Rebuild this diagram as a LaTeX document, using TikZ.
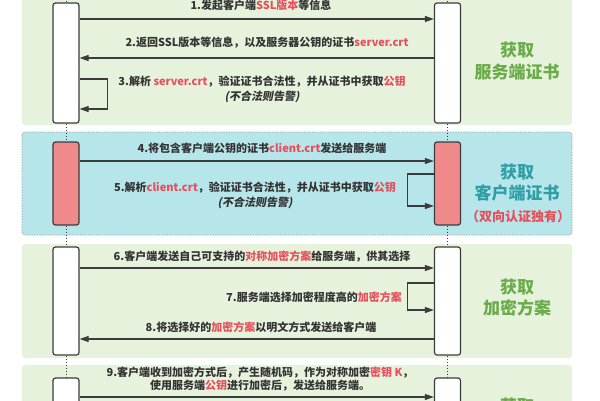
\documentclass[tikz,border=0pt]{standalone}
\usepackage{fontspec}
\setmainfont{Noto Sans CJK SC}
\newfontfamily\slantfont{Noto Sans CJK SC}[FakeSlant=0.2]
\usetikzlibrary{arrows.meta}

\definecolor{panelgreen}{HTML}{E6F2DC}
\definecolor{panelcyan}{HTML}{B6E5EA}
\definecolor{boxpink}{HTML}{F08A8A}
\definecolor{linegray}{HTML}{3C3C3C}
\definecolor{textgray}{HTML}{333333}
\definecolor{hotred}{HTML}{E5505C}
\definecolor{phasegreen}{HTML}{6AAB4A}
\definecolor{phaseteal}{HTML}{2E9FA4}

\newcommand{\hot}[1]{\textcolor{hotred}{#1}}

\begin{document}
\begin{tikzpicture}
  [x=1pt,y=-1pt,
   panel/.style={rounded corners=3pt,fill=panelgreen},
   lifeline/.style={rectangle,rounded corners=2.5pt,draw=linegray,fill=white,
                    line width=1.2pt,inner sep=0pt,minimum width=26pt},
   lifedots/.style={draw=linegray,line width=1pt,dotted},
   msg/.style={draw=linegray,line width=1.1pt,-{Triangle[length=9pt,width=6pt]}},
   steptext/.style={font=\fontsize{11}{15}\selectfont\bfseries,text=textgray,
                    align=center,inner sep=0pt},
   phase/.style={font=\fontsize{17}{22}\selectfont\bfseries,align=center,inner sep=0pt}]
  \clip (0,0) rectangle (600,400);
  \fill[white] (0,0) rectangle (600,400);

  % panels
  \fill[panel] (22,-10) rectangle (572,125);
  \draw[panel,fill=panelcyan,draw=gray!70,line width=0.6pt,dash pattern=on 1.5pt off 1.2pt]
    (22,132) rectangle (572,235);
  \fill[panel] (22,244) rectangle (572,358);
  \fill[panel] (22,365) rectangle (572,500);

  % lifelines
  \node (c1) at (66,63) [lifeline,minimum height=120pt] {};
  \node (c2) at (66,183.5) [lifeline,fill=boxpink,minimum height=83pt] {};
  \node (c3) at (66,301) [lifeline,minimum height=108pt] {};
  \node (c4) at (66,440) [lifeline,minimum height=124pt] {};
  \node (s1) at (447.5,63) [lifeline,minimum height=120pt] {};
  \node (s2) at (447.5,183.5) [lifeline,fill=boxpink,minimum height=83pt] {};
  \node (s3) at (447.5,301) [lifeline,minimum height=108pt] {};
  \node (s4) at (447.5,440) [lifeline,minimum height=124pt] {};
  \draw[lifedots] (c1.north) -- ++(0,-6);
  \draw[lifedots] (s1.north) -- ++(0,-6);
  \draw[lifedots] (c1.south) -- (c2.north);
  \draw[lifedots] (c2.south) -- (c3.north);
  \draw[lifedots] (c3.south) -- (c4.north);
  \draw[lifedots] (s1.south) -- (s2.north);
  \draw[lifedots] (s2.south) -- (s3.north);
  \draw[lifedots] (s3.south) -- (s4.north);

  % messages
  \draw[msg] (c1.east |- 0,19) -- (s1.west |- 0,19);
  \draw[msg] (s1.west |- 0,58) -- (c1.east |- 0,58);
  \draw[msg] (c1.east |- 0,79) -- ++(28,0) |- (c1.east |- 0,109);
  \draw[msg] (c2.east |- 0,161) -- (s2.west |- 0,161);
  \draw[msg] (s2.west |- 0,174) -- ++(-26,0) |- (s2.west |- 0,206);
  \draw[msg] (c3.east |- 0,268) -- (s3.west |- 0,268);
  \draw[msg] (s3.west |- 0,283) -- ++(-26,0) |- (s3.west |- 0,310);
  \draw[msg] (s3.west |- 0,339) -- (c3.east |- 0,339);
  \draw[msg] (c4.east |- 0,397) -- (s4.west |- 0,397);

  % labels
  \node (t1) at (261,5) [steptext] {1.发起客户端\hot{SSL版本}等信息};
  \node (t2) at (267,43) [steptext] {2.返回SSL版本等信息，以及服务器公钥的证书\hot{server.crt}};
  \node (t3) at (262,89.5) [steptext]
    {3.解析 \hot{server.crt}，验证证书合法性，并从证书中获取\hot{公钥}\\{\slantfont (不合法则告警)}};
  \node (t4) at (262,148) [steptext] {4.将包含客户端公钥的证书\hot{client.crt}发送给服务端};
  \node (t5) at (255,195) [steptext]
    {5.解析\hot{client.crt}，验证证书合法性，并从证书中获取\hot{公钥}\\{\slantfont (不合法则告警)}};
  \node (t6) at (262,257) [steptext] {6.客户端发送自己可支持的\hot{对称加密方案}给服务端，供其选择};
  \node (t7) at (402,297) [steptext,anchor=east] {7.服务端选择加密程度高的\hot{加密方案}};
  \node (t8) at (261,327) [steptext] {8.将选择好的\hot{加密方案}以明文方式发送给客户端};
  \node (t9) at (260,379) [steptext,font=\fontsize{11}{12.5}\selectfont\bfseries]
    {9.客户端收到加密方式后，产生随机码，作为对称加密\hot{密钥 K}，\\使用服务端\hot{公钥}进行加密后，发送给服务端。};

  \node (p1) at (517,61) [phase,text=phasegreen] {获取\\服务端证书};
  \node (p2) at (517,182.5) [phase,text=phaseteal,font=\fontsize{17}{21}\selectfont\bfseries] {获取\\客户端证书};
  \node (p2note) at (518,217) [inner sep=0pt,font=\fontsize{13}{15}\selectfont\bfseries,text=hotred] {（双向认证独有）};
  \node (p3) at (517,297.5) [phase,text=phasegreen,font=\fontsize{17}{21}\selectfont\bfseries] {获取\\加密方案};
  \node (p4) at (517,406) [phase,text=phasegreen] {获取};
\end{tikzpicture}
\end{document}
